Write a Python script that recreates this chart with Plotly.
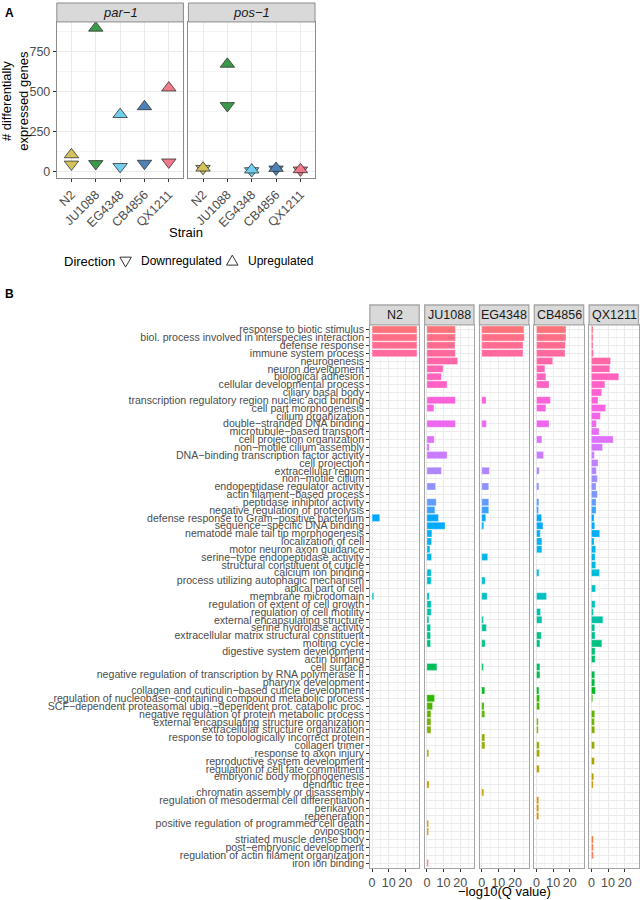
import math
import plotly.graph_objects as go

W, H = 640, 900
FONT = "Liberation Sans"

# ---------------- Panel A data ----------------
strains = ["N2", "JU1088", "EG4348", "CB4856", "QX1211"]
strain_colors = ["#D4C25A", "#3B9A48", "#72CDEE", "#4C82B8", "#F07A88"]
par1_up = [105, 895, 356, 405, 522]
par1_down = [45, 48, 30, 50, 58]
pos1_up = [22, 670, 10, 20, 12]
pos1_down = [18, 410, 4, 14, 8]
count_ticks = [0, 250, 500, 750]

# ---------------- Panel B data ----------------
terms = [
    "response to biotic stimulus",
    "biol. process involved in interspecies interaction",
    "defense response",
    "immune system process",
    "neurogenesis",
    "neuron development",
    "biological adhesion",
    "cellular developmental process",
    "ciliary basal body",
    "transcription regulatory region nucleic acid binding",
    "cell part morphogenesis",
    "cilium organization",
    "double\u2212stranded DNA binding",
    "microtubule\u2212based transport",
    "cell projection organization",
    "non\u2212motile cilium assembly",
    "DNA\u2212binding transcription factor activity",
    "cell projection",
    "extracellular region",
    "non\u2212motile cilium",
    "endopeptidase regulator activity",
    "actin filament\u2212based process",
    "peptidase inhibitor activity",
    "negative regulation of proteolysis",
    "defense response to Gram\u2212positive bacterium",
    "sequence\u2212specific DNA binding",
    "nematode male tail tip morphogenesis",
    "localization of cell",
    "motor neuron axon guidance",
    "serine\u2212type endopeptidase activity",
    "structural constituent of cuticle",
    "calcium ion binding",
    "process utilizing autophagic mechanism",
    "apical part of cell",
    "membrane microdomain",
    "regulation of extent of cell growth",
    "regulation of cell motility",
    "external encapsulating structure",
    "serine hydrolase activity",
    "extracellular matrix structural constituent",
    "molting cycle",
    "digestive system development",
    "actin binding",
    "cell surface",
    "negative regulation of transcription by RNA polymerase II",
    "pharynx development",
    "collagen and cuticulin\u2212based cuticle development",
    "regulation of nucleobase\u2212containing compound metabolic process",
    "SCF\u2212dependent proteasomal ubiq.\u2212dependent prot. catabolic proc.",
    "negative regulation of protein metabolic process",
    "external encapsulating structure organization",
    "extracellular structure organization",
    "response to topologically incorrect protein",
    "collagen trimer",
    "response to axon injury",
    "reproductive system development",
    "regulation of cell fate commitment",
    "embryonic body morphogenesis",
    "dendritic tree",
    "chromatin assembly or disassembly",
    "regulation of mesodermal cell differentiation",
    "perikaryon",
    "regeneration",
    "positive regulation of programmed cell death",
    "oviposition",
    "striated muscle dense body",
    "post\u2212embryonic development",
    "regulation of actin filament organization",
    "iron ion binding",
]
N = None
q_N2 = [27, 27, 27, 27, N, N, N, N, N, N,
        N, N, N, N, N, N, N, N, N, N,
        N, N, N, N, 4.6, N, N, N, N, N,
        N, N, N, N, 1.0, N, N, N, N, N,
        N, N, N, N, N, N, N, N, N, N,
        N, N, N, N, N, N, N, N, N, N,
        N, N, N, N, N, N, N, N, N]
q_JU1088 = [17.1, 17.1, 16.9, 17.1, 18.5, 9.7, 8.7, 12.1, N, 17.1,
            4.2, N, 17.1, N, 4.4, 1.4, 12.1, N, 8.7, N,
            5.2, N, 5.6, 4.8, 6.9, 10.9, 3.0, 2.8, 1.8, 2.8,
            N, 2.6, 2.6, N, 1.4, 2.6, 2.6, 1.2, 2.2, 2.2,
            2.2, N, N, 6.0, N, N, N, 4.6, 3.4, 2.4,
            2.4, 2.4, N, N, 1.1, N, N, N, 1.3, N,
            N, N, N, 1.0, 1.0, N, N, N, 0.9]
q_EG4348 = [25.4, 25.6, 24.8, 24.8, N, N, N, N, N, 2.6,
            N, N, 2.8, N, N, N, N, N, 4.6, N,
            4.2, N, 4.2, 4.2, 2.4, 1.2, N, N, N, 3.6,
            N, N, 2.0, N, 3.2, N, N, 1.0, 2.8, N,
            2.0, N, N, 1.0, N, N, 1.8, N, 1.4, 1.8,
            N, N, 1.8, 1.9, N, N, N, N, N, 1.2,
            N, N, N, N, N, N, N, N, N]
q_CB4856 = [17.7, 17.7, 17.3, 17.1, 9.7, 5.0, 5.6, 7.5, N, 8.3,
            5.6, N, 7.5, N, 3.2, N, 4.2, N, 1.6, N,
            1.4, N, 1.4, 1.2, 3.0, 3.8, 2.2, 3.2, 3.2, N,
            N, 1.4, N, N, 6.0, N, 2.4, 3.2, N, 2.8,
            2.0, N, N, 2.0, 2.0, N, 1.4, 1.8, 1.8, N,
            1.0, 1.0, N, 1.6, 1.8, N, 1.6, N, N, N,
            1.3, 1.3, 1.3, N, N, N, N, N, N]
q_QX1211 = [1.0, 1.0, 1.0, 1.2, 11.5, 11.1, 16.5, 8.1, 6.2, 4.0,
            8.5, 5.4, 3.0, 4.6, 13.1, 6.7, 1.8, 4.0, 3.0, 3.6,
            2.8, 3.6, 2.8, 2.8, 1.6, 2.0, 5.0, 1.6, 2.6, 2.2,
            2.6, 4.9, N, 2.5, N, 2.2, 1.2, 6.9, 2.0, 2.2,
            6.3, 2.2, 2.2, N, 2.0, 2.0, 2.4, 0.8, N, 2.0,
            1.8, 2.0, N, 1.9, N, 1.8, N, 1.4, 1.1, N,
            N, N, N, N, N, 1.2, 1.2, 1.2, N]
q_values = [q_N2, q_JU1088, q_EG4348, q_CB4856, q_QX1211]
q_ticks = [0, 10, 20]


# ggplot2-style hue palette (HCL, l=65, c=100)
def hcl_hex(h, c=100.0, l=65.0):
    hr = math.radians(h)
    u, v = c * math.cos(hr), c * math.sin(hr)
    Xn, Yn, Zn = 95.047, 100.0, 108.883
    den = Xn + 15 * Yn + 3 * Zn
    un, vn = 4 * Xn / den, 9 * Yn / den
    Y = Yn * ((l + 16) / 116) ** 3
    up = u / (13 * l) + un
    vp = v / (13 * l) + vn
    X = Y * 9 * up / (4 * vp)
    Z = Y * (12 - 3 * up - 20 * vp) / (4 * vp)
    X, Y, Z = X / 100, Y / 100, Z / 100
    rgb = [3.240479 * X - 1.537150 * Y - 0.498535 * Z,
           -0.969256 * X + 1.875992 * Y + 0.041556 * Z,
           0.055648 * X - 0.204043 * Y + 1.057311 * Z]
    out = []
    for ch in rgb:
        ch = 12.92 * ch if ch <= 0.0031308 else 1.055 * ch ** (1 / 2.4) - 0.055
        out.append(int(round(max(0, min(1, ch)) * 255)))
    return "#%02X%02X%02X" % tuple(out)


n = len(terms)
hues = [15 + i * 360.0 / n for i in range(n)]          # level 1 = bottom row
term_colors = list(reversed([hcl_hex(h) for h in hues]))


def fx(px):
    return px / W


def fy(py):
    return 1 - py / H


fig = go.Figure()

GRID = "#EBEBEB"
MINOR = "#F4F4F4"
BORDER = "#8C8C8C"
BB = "#A6A6A6"
TICKC = "#4D4D4D"

# ---------------- Panel A traces ----------------
for ax, up, down in [("x", par1_up, par1_down), ("x2", pos1_up, pos1_down)]:
    yax = "y" if ax == "x" else "y2"
    fig.add_trace(go.Scatter(
        x=strains, y=down, xaxis=ax, yaxis=yax, mode="markers",
        marker=dict(symbol="triangle-down", size=12.5, color=strain_colors,
                    line=dict(color="#333333", width=0.8)),
        showlegend=False, hoverinfo="skip"))
    fig.add_trace(go.Scatter(
        x=strains, y=up, xaxis=ax, yaxis=yax, mode="markers",
        marker=dict(symbol="triangle-up", size=12.5, color=strain_colors,
                    line=dict(color="#333333", width=0.8)),
        showlegend=False, hoverinfo="skip"))

# ---------------- Panel B traces ----------------
for i, vals in enumerate(q_values):
    k = i + 3
    fig.add_trace(go.Bar(
        x=vals, y=terms, orientation="h", xaxis="x%d" % k, yaxis="y%d" % k,
        marker=dict(color=term_colors, line=dict(color="rgba(255,255,255,0.55)", width=0.6)),
        showlegend=False, hoverinfo="skip"))

layout = dict(
    width=W, height=H, margin=dict(l=0, r=0, t=0, b=0),
    paper_bgcolor="white", plot_bgcolor="white",
    font=dict(family=FONT, color="#000000", size=12),
    bargap=0.1, showlegend=False,
)

# Panel A axes
a_dom = [[56, 183], [188, 315]]
for j, (l, r) in enumerate(a_dom):
    suf = "" if j == 0 else "2"
    layout["xaxis" + suf] = dict(
        domain=[fx(l), fx(r)], anchor="y" + suf, type="category",
        categoryorder="array", categoryarray=strains, range=[-0.6, 4.6],
        showgrid=True, gridcolor=GRID, gridwidth=1,
        showline=True, linecolor=BORDER, linewidth=1, mirror=True,
        ticks="outside", ticklen=3, tickcolor="#333333",
        tickangle=-45, tickfont=dict(size=12.5, color=TICKC), zeroline=False)
    ya = dict(
        domain=[fy(177), fy(20)], anchor="x" + suf, range=[-43.5, 933],
        tickvals=count_ticks, showgrid=True, gridcolor=GRID,
        minor=dict(tickvals=[125, 375, 625, 875], showgrid=True, gridcolor=MINOR),
        showline=True, linecolor=BORDER, linewidth=1, mirror=True,
        zeroline=False, tickfont=dict(size=12.5, color=TICKC))
    if j == 0:
        ya.update(ticks="outside", ticklen=3, tickcolor="#333333")
    else:
        ya.update(matches="y", showticklabels=False, ticks="")
    layout["yaxis" + suf] = ya

# Panel B axes
b_dom = [[370, 420], [425, 475], [480, 530], [535, 585], [590, 640]]
for i, (l, r) in enumerate(b_dom):
    k = i + 3
    layout["xaxis%d" % k] = dict(
        domain=[fx(l), fx(r - 0.5)], anchor="y%d" % k, range=[-1.35, 28.35],
        tickvals=q_ticks, showgrid=True, gridcolor=GRID,
        minor=dict(tickvals=[5, 15, 25], showgrid=True, gridcolor=MINOR),
        showline=True, linecolor=BB, linewidth=1.3, mirror=True,
        ticks="outside", ticklen=3, tickcolor="#333333",
        zeroline=False, tickfont=dict(size=12.5, color=TICKC))
    ya = dict(
        domain=[fy(868.6), fy(324)], anchor="x%d" % k, type="category",
        categoryorder="array", categoryarray=terms, range=[n - 0.4, -0.6],
        tickmode="array", tickvals=terms, ticktext=terms,
        showgrid=True, gridcolor=GRID,
        showline=True, linecolor=BB, linewidth=1.3, mirror=True, zeroline=False)
    if i == 0:
        ya.update(ticks="outside", ticklen=2.5, tickcolor="#333333",
                  tickfont=dict(size=10.6, color=TICKC))
    else:
        ya.update(matches="y3", showticklabels=False, ticks="")
    layout["yaxis%d" % k] = ya

fig.update_layout(**layout)


def ann(px, py, text, size, xanchor="center", yanchor="middle", **kw):
    d = dict(xref="paper", yref="paper", x=fx(px), y=fy(py), text=text, showarrow=False,
             xanchor=xanchor, yanchor=yanchor, font=dict(size=size, color=kw.pop("color", "#000000")))
    d.update(kw)
    return d


# Strips, legend keys and texts
shapes = []
annotations = []
for (l, r), lab in zip(a_dom, ["par\u22121", "pos\u22121"]):
    shapes.append(dict(type="rect", xref="paper", yref="paper", x0=fx(l), x1=fx(r),
                       y0=fy(20), y1=fy(1), fillcolor="#D9D9D9",
                       line=dict(color=BORDER, width=1), layer="above"))
    annotations.append(ann((l + r) / 2, 11, "<i>%s</i>" % lab, 13, color="#1A1A1A"))
for (l, r), lab in zip(b_dom, strains):
    shapes.append(dict(type="rect", xref="paper", yref="paper", x0=fx(l), x1=fx(r - 0.5),
                       y0=fy(324), y1=fy(304), fillcolor="#D9D9D9",
                       line=dict(color=BB, width=1.3), layer="above"))
    annotations.append(ann((l + r) / 2, 314.5, lab, 12.5, color="#1A1A1A"))


def tri_path(cx, cy, up, w=11.5, h=10.0):
    if up:
        pts = [(cx - w / 2, cy + h / 2), (cx + w / 2, cy + h / 2), (cx, cy - h / 2)]
    else:
        pts = [(cx - w / 2, cy - h / 2), (cx + w / 2, cy - h / 2), (cx, cy + h / 2)]
    return "M " + " L ".join("%.5f,%.5f" % (fx(x), fy(y)) for x, y in pts) + " Z"


shapes.append(dict(type="path", xref="paper", yref="paper", path=tri_path(125, 261, False),
                   line=dict(color="#333333", width=1), fillcolor="rgba(0,0,0,0)"))
shapes.append(dict(type="path", xref="paper", yref="paper", path=tri_path(232, 259, True),
                   line=dict(color="#333333", width=1), fillcolor="rgba(0,0,0,0)"))

annotations += [
    ann(2, 2, "<b>A</b>", 12, xanchor="left", yanchor="top"),
    ann(2, 284, "<b>B</b>", 12, xanchor="left", yanchor="top"),
    ann(14, 99, "# differentially<br>expressed genes", 13, textangle=-90),
    ann(186, 231, "Strain", 13),
    ann(61, 260, "Direction", 13, xanchor="left"),
    ann(138, 260, "Downregulated", 12, xanchor="left"),
    ann(246, 260, "Upregulated", 12, xanchor="left"),
    ann(505, 892, "\u2212log10(Q value)", 13),
]
fig.update_layout(shapes=shapes, annotations=annotations)

fig.write_html("out.html", config={"displayModeBar": False},
               post_script="document.body.style.margin='0';document.body.style.overflow='hidden';")
